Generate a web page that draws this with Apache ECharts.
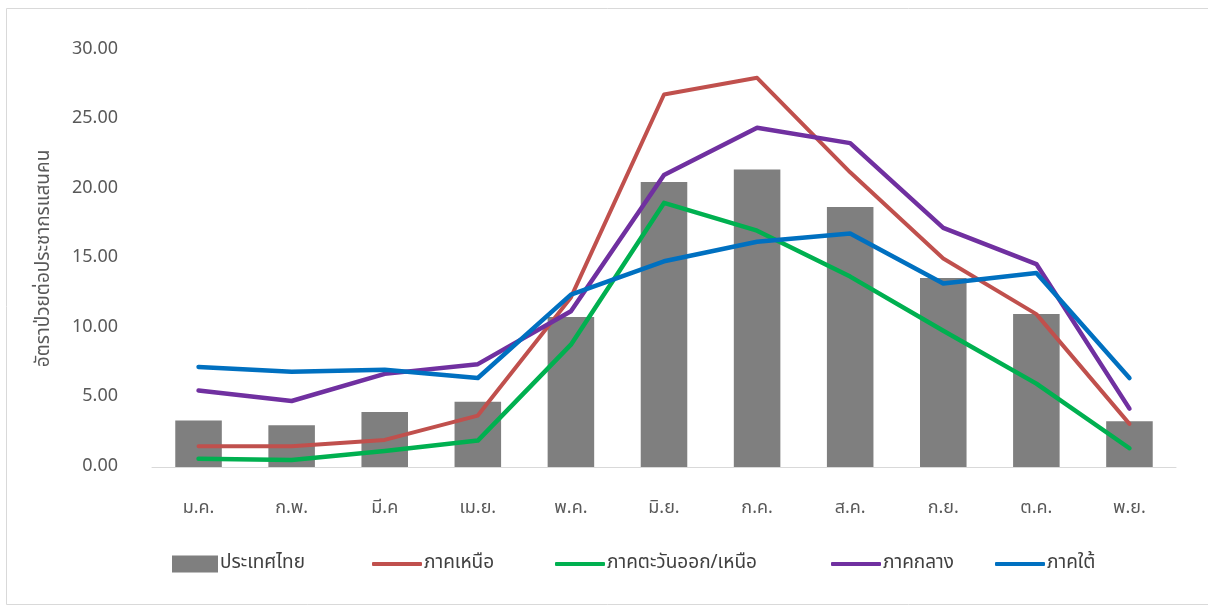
<!DOCTYPE html>
<html>
<head>
<meta charset="utf-8">
<script src="https://cdn.jsdelivr.net/npm/echarts@6/dist/echarts.min.js"></script>
<style>
  html, body { margin: 0; padding: 0; background: #fff; }
  #chart { width: 1208px; height: 608px; }
</style>
</head>
<body>
<div id="chart"></div>
<script>
const months = ['ม.ค.', 'ก.พ.', 'มี.ค', 'เม.ย.', 'พ.ค.', 'มิ.ย.', 'ก.ค.', 'ส.ค.', 'ก.ย.', 'ต.ค.', 'พ.ย.'];
const thailand = [3.35, 3.0, 3.95, 4.7, 10.8, 20.5, 21.4, 18.7, 13.6, 11.0, 3.3];
const north = [1.5, 1.5, 1.95, 3.7, 12.2, 26.8, 28.0, 21.2, 15.0, 11.0, 3.1];
const northeast = [0.6, 0.5, 1.15, 1.9, 8.8, 19.0, 17.0, 13.7, 9.8, 6.0, 1.35];
const central = [5.5, 4.75, 6.7, 7.4, 11.2, 21.0, 24.4, 23.3, 17.2, 14.6, 4.2];
const south = [7.2, 6.85, 7.0, 6.4, 12.4, 14.8, 16.2, 16.8, 13.2, 13.95, 6.4];
const yTicks = { min: 0, max: 30, interval: 5 };
const seriesNames = ['ประเทศไทย', 'ภาคเหนือ', 'ภาคตะวันออก/เหนือ', 'ภาคกลาง', 'ภาคใต้'];
const seriesColors = ['#7f7f7f', '#c0504d', '#00b050', '#7030a0', '#0070c0'];

const FONT = '"Leelawadee UI", "Noto Sans Thai", Tahoma, "DejaVu Sans", sans-serif';
const chart = echarts.init(document.getElementById('chart'), null, { renderer: 'canvas' });

function lineSeries(i, data, width) {
  return {
    name: seriesNames[i], type: 'line', data: data, symbol: 'none',
    lineStyle: { color: seriesColors[i], width: width, join: 'round', cap: 'round' },
    itemStyle: { color: seriesColors[i] },
    z: 3
  };
}

const legendLefts = [167, 367, 550, 826, 990];
const legends = seriesNames.map((n, i) => ({
  left: legendLefts[i], top: 549,
  itemWidth: i === 0 ? 46 : 50,
  itemHeight: i === 0 ? 17 : 4,
  itemGap: 0,
  textStyle: { fontFamily: FONT, fontSize: 19, lineHeight: 20, color: '#404040', padding: [0, 0, 0, -3] },
  data: [{ name: n, icon: i === 0 ? 'rect' : 'roundRect', itemStyle: { color: seriesColors[i] } }]
}));

chart.setOption({
  animation: false,
  textStyle: { fontFamily: FONT },
  graphic: [{
    type: 'rect', shape: { x: 6.5, y: 8.5, width: 1210, height: 596 },
    style: { fill: 'none', stroke: '#d9d9d9', lineWidth: 1 }, silent: true
  }],
  grid: { left: 152, right: 32, top: 50, bottom: 141 },
  legend: legends,
  xAxis: {
    type: 'category', data: months,
    axisLine: { lineStyle: { color: '#d9d9d9', width: 1 } },
    axisTick: { show: false },
    axisLabel: { color: '#595959', fontSize: 18, margin: 33, fontFamily: FONT }
  },
  yAxis: {
    type: 'value', min: yTicks.min, max: yTicks.max, interval: yTicks.interval,
    name: 'อัตราป่วยต่อประชากรแสนคน', nameLocation: 'middle', nameGap: 97,
    nameTextStyle: { color: '#595959', fontSize: 19, fontFamily: FONT },
    axisLine: { show: false }, axisTick: { show: false },
    splitLine: { show: false },
    axisLabel: { color: '#595959', fontSize: 18, margin: 34, fontFamily: FONT,
      formatter: v => v.toFixed(2) }
  },
  series: [
    { name: seriesNames[0], type: 'bar', data: thailand, barWidth: '50%',
      itemStyle: { color: seriesColors[0] }, z: 2 },
    lineSeries(1, north, 4),
    lineSeries(2, northeast, 4.5),
    lineSeries(3, central, 4.5),
    lineSeries(4, south, 4.5)
  ]
});
</script>
</body>
</html>
